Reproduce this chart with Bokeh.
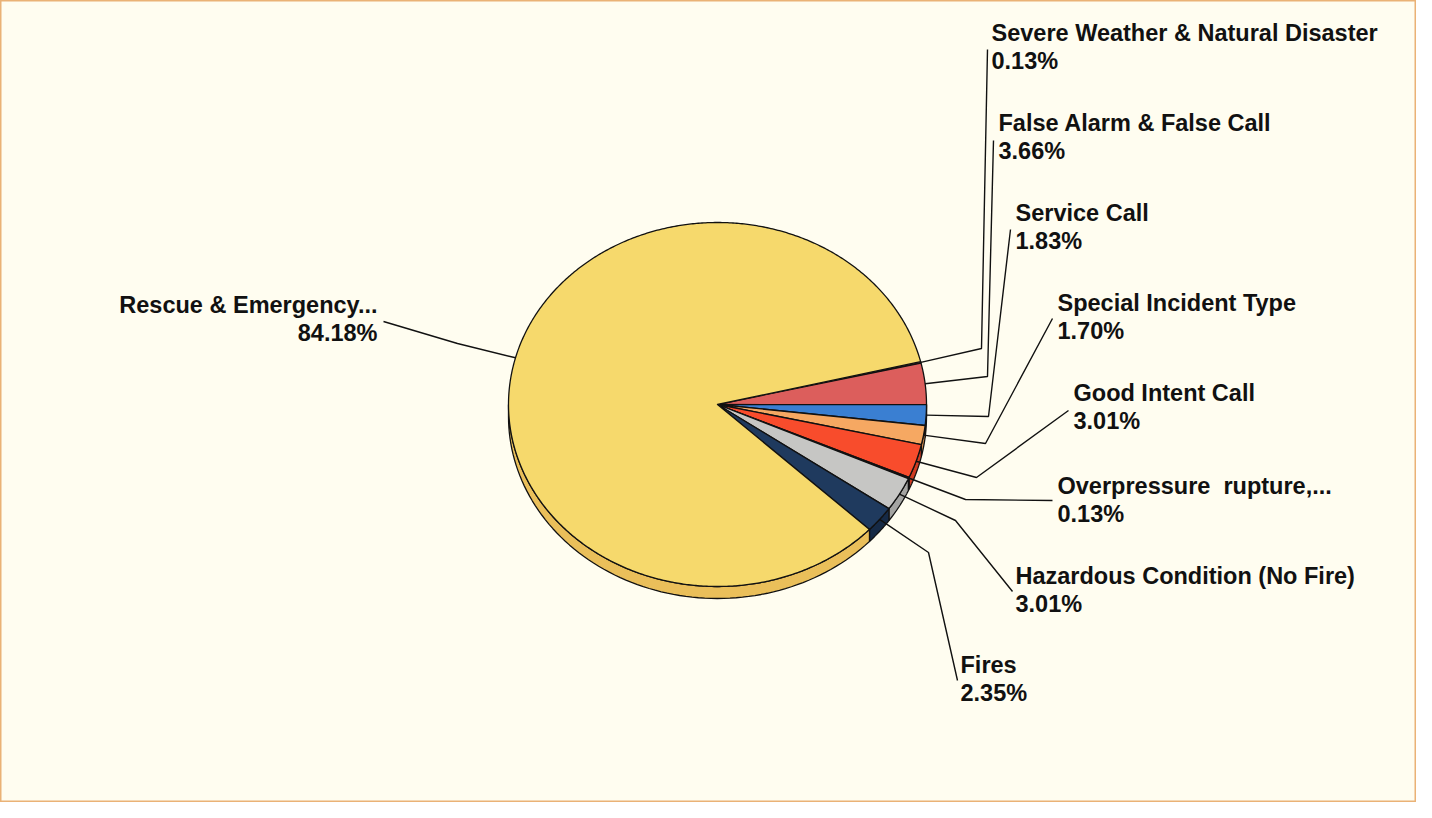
import numpy as np
from bokeh.plotting import figure
from bokeh.models import Range1d, ColumnDataSource
from bokeh.core.properties import value
from bokeh.embed import file_html
from bokeh.resources import INLINE

# ---------------- data ----------------
categories = [
    "Severe Weather & Natural Disaster",
    "False Alarm & False Call",
    "Service Call",
    "Special Incident Type",
    "Good Intent Call",
    "Overpressure\u00a0 rupture,...",
    "Hazardous Condition (No Fire)",
    "Fires",
    "Rescue & Emergency...",
]
percents = [0.13, 3.66, 1.83, 1.70, 3.01, 0.13, 3.01, 2.35, 84.18]

top_colors = ["#c8504e", "#dc5e5c", "#3a7fd2", "#f6a862", "#f84c2c",
              "#c8322a", "#c6c6c4", "#1f3a5e", "#f6d96c"]
side_colors = ["#a84040", "#b84c4a", "#2c62a4", "#d08a4c", "#d03c22",
               "#a02822", "#a4a4a2", "#162a46", "#eabf5a"]

# ---------------- layout ----------------
W, H = 1416, 802
cx, cy, rx, ry, depth = 717, 404, 209, 182, 12
start_deg = 13.6

# label placement: x, y of first line, alignment, elbow, line end
label_x = [991, 998, 1015, 1057, 1073, 1057, 1015, 960, 377]
label_y = [32, 122, 212, 302, 392, 485, 575, 664, 304]
label_align = ["left"] * 8 + ["right"]
elbow = [(981, 348), (987, 376), (988, 416), (985, 443), (976, 477),
         (965, 499), (955, 520), (928, 552), (457, 343)]
line_end = [(987, 49), (993, 140), (1010, 229), (1052, 318), (1068, 410),
            (1052, 500), (1012, 591), (957, 680), (383, 321)]
line_gap = 28

p = figure(width=W, height=H, output_backend="svg", toolbar_location=None,
           x_range=Range1d(0, W), y_range=Range1d(H, 0),
           min_border=0, background_fill_color="#fffdf0",
           border_fill_color="#fffdf0")
p.axis.visible = False
p.grid.visible = False
p.outline_line_color = "#eab276"
p.outline_line_width = 2


def ell(t_deg, dy=0.0):
    t = np.radians(t_deg)
    return cx + rx * np.cos(t), cy - ry * np.sin(t) + dy


# slice angles (clockwise, i.e. decreasing parametric angle)
angles = []
a = start_deg
for v in percents:
    b = a - 360.0 * v / 100.0
    angles.append((a, b))
    a = b

# sides (front half only: parametric angle in [-180, 0])
sx, sy, sc = [], [], []
for (a, b), c in zip(angles, side_colors):
    hi = min(a, 0.0)
    lo = max(b, -180.0)
    if hi <= lo:
        continue
    ts = np.linspace(hi, lo, 80)
    x1, y1 = ell(ts)
    x2, y2 = ell(ts[::-1], depth)
    sx.append(np.concatenate([x1, x2]).tolist())
    sy.append(np.concatenate([y1, y2]).tolist())
    sc.append(c)
p.patches(sx, sy, fill_color=sc, line_color="#111111", line_width=1.3)

# top faces
tx, ty = [], []
for (a, b) in angles:
    n = max(4, int(abs(a - b) * 2))
    ts = np.linspace(a, b, n)
    x, y = ell(ts)
    tx.append([cx] + x.tolist())
    ty.append([cy] + y.tolist())
p.patches(tx, ty, fill_color=top_colors, line_color="#111111", line_width=1.3,
          line_join="round")

# leader lines
lx, ly = [], []
for (a, b), e, le in zip(angles, elbow, line_end):
    ax_, ay_ = ell((a + b) / 2.0)
    lx.append([float(ax_), e[0], le[0]])
    ly.append([float(ay_), e[1], le[1]])
p.multi_line(lx, ly, line_color="#111111", line_width=1.4)

# labels
pct_text = [f"{v:.2f}%" for v in percents]
for align in ("left", "right"):
    idx = [i for i in range(len(categories)) if label_align[i] == align]
    src = ColumnDataSource(dict(
        x=[label_x[i] for i in idx],
        y=[label_y[i] for i in idx],
        y2=[label_y[i] + line_gap for i in idx],
        name=[categories[i] for i in idx],
        pct=[pct_text[i] for i in idx],
    ))
    for ycol, tcol in (("y", "name"), ("y2", "pct")):
        p.text(x="x", y=ycol, text=tcol, source=src,
               text_font=value("Liberation Sans"), text_font_style="bold",
               text_font_size="23.5px", text_color="#111111",
               text_align=align, text_baseline="middle")

open("out.html", "w").write(file_html(p, INLINE))
